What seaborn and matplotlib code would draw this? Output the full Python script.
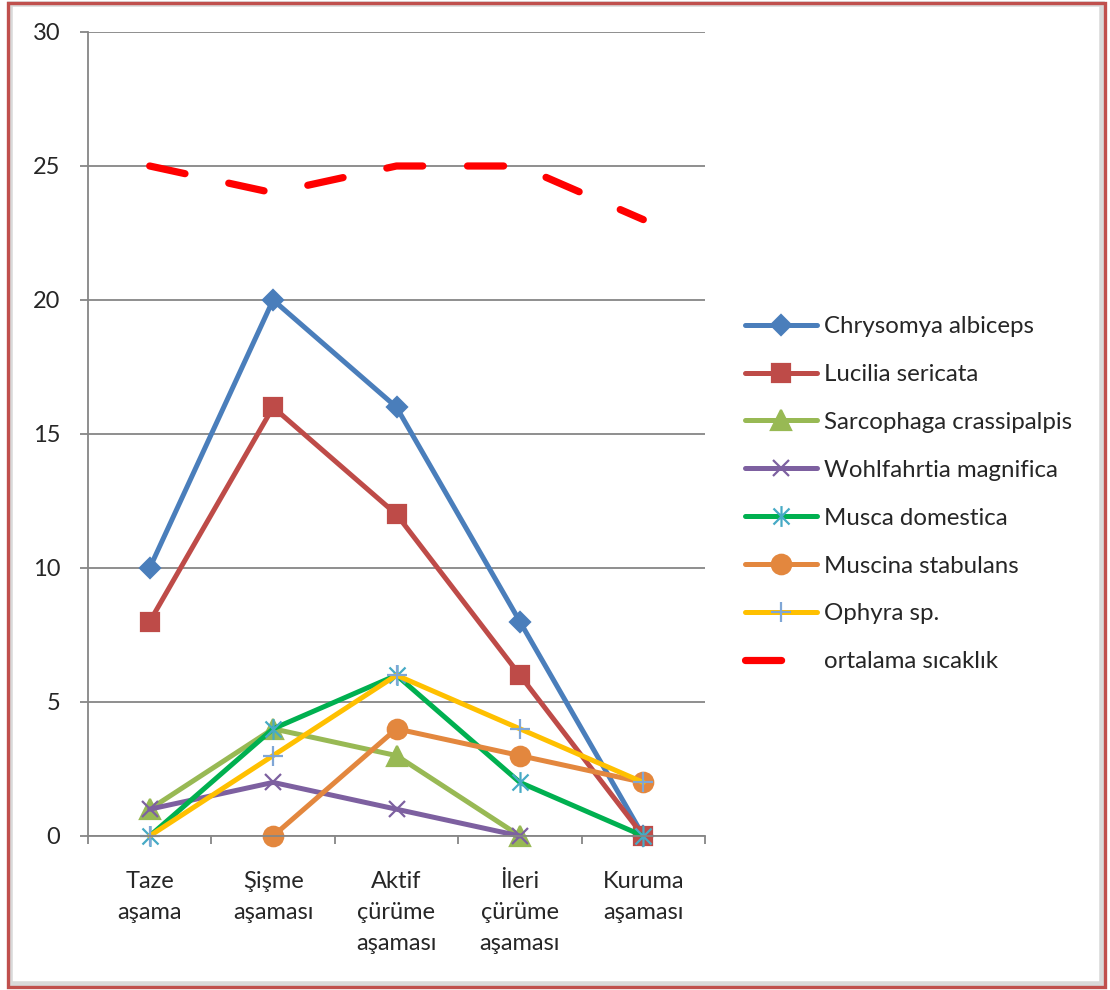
import matplotlib
matplotlib.use('Agg')
import matplotlib.pyplot as plt
from matplotlib.patches import Rectangle
from matplotlib.path import Path
import numpy as np
import pandas as pd
import seaborn as sns

# decomposition stages (x categories)
stages = ['Taze\naşama', 'Şişme\naşaması', 'Aktif\nçürüme\naşaması',
          'İleri\nçürüme\naşaması', 'Kuruma\naşaması']

# counts per species (nan = no point)
chrysomya = [10, 20, 16, 8, 0]
lucilia = [8, 16, 12, 6, 0]
sarcophaga = [1, 4, 3, 0, np.nan]
wohlfahrtia = [1, 2, 1, 0, np.nan]
musca = [0, 4, 6, 2, 0]
muscina = [np.nan, 0, 4, 3, 2]
ophyra = [0, 3, 6, 4, 2]
temperature = [25, 24, 25, 25, 23]

series_names = ['Chrysomya albiceps', 'Lucilia sericata', 'Sarcophaga crassipalpis',
                'Wohlfahrtia magnifica', 'Musca domestica', 'Muscina stabulans',
                'Ophyra sp.']
series_values = [chrysomya, lucilia, sarcophaga, wohlfahrtia, musca, muscina, ophyra]

# Excel style asterisk: an x with a vertical bar through it
star = Path([(-1, -1), (1, 1), (-1, 1), (1, -1), (0, -1.3), (0, 1.3)],
            [Path.MOVETO, Path.LINETO, Path.MOVETO, Path.LINETO, Path.MOVETO, Path.LINETO])

# line colour, marker, marker face, marker edge, marker size
styles = [
    ('#4A7EBB', 'D', '#4A7EBB', '#4A7EBB', 10.5),
    ('#BE4B48', 's', '#BE4B48', '#BE4B48', 13),
    ('#98B954', '^', '#98B954', '#98B954', 14),
    ('#7D60A0', 'x', 'none', '#7D60A0', 12),
    ('#00B050', star, 'none', '#46AAC5', 15),
    ('#E3873E', 'o', '#E3873E', '#E3873E', 14),
    ('#FFC000', '+', 'none', '#7FA6D6', 14),
]

sns.set_style('white')
plt.rcParams['font.family'] = ['Lato', 'DejaVu Sans']

fig = plt.figure(figsize=(11.1, 9.9), dpi=100)
ax = fig.add_axes([88 / 1110, 1 - 836 / 990, (705 - 88) / 1110, (836 - 32) / 990])

xpos = np.arange(len(stages))
for name, vals, (col, mk, mfc, mec, ms) in zip(series_names, series_values, styles):
    df = pd.DataFrame({'x': xpos, 'y': vals})
    sns.lineplot(data=df, x='x', y='y', ax=ax, color=col, lw=3.6,
                 marker=mk, markersize=ms, markerfacecolor=mfc,
                 markeredgecolor=mec, markeredgewidth=1.6,
                 label=name, clip_on=False, errorbar=None)

df_t = pd.DataFrame({'x': xpos, 'y': temperature})
sns.lineplot(data=df_t, x='x', y='y', ax=ax, color='#FF0000', lw=5.2,
             dashes=False, label='ortalama sıcaklık', errorbar=None)
ax.lines[-1].set_dashes((5.0, 6.2))
ax.lines[-1].set_dash_capstyle('round')

# axes styling
ax.set_xlim(-0.5, len(stages) - 0.5)
ax.set_ylim(0, 30)
ax.set_yticks(np.arange(0, 31, 5))
ax.yaxis.grid(True, color='#868686', lw=1.3)
ax.xaxis.grid(False)
ax.set_axisbelow(True)
for s in ['top', 'right']:
    ax.spines[s].set_visible(False)
for s in ['left', 'bottom']:
    ax.spines[s].set_color('#868686')
    ax.spines[s].set_linewidth(1.3)

ax.set_xticks(xpos)
ax.set_xticklabels(stages, fontsize=17, linespacing=1.6, va='top')
ax.set_xticks(np.arange(-0.5, len(stages)), minor=True)
ax.tick_params(axis='x', which='major', length=0, pad=25)
ax.tick_params(axis='x', which='minor', length=6, width=1.3, color='#868686',
               direction='out', bottom=True)
ax.tick_params(axis='y', which='major', length=6, width=1.3, color='#868686',
               direction='out', left=True, labelsize=17, pad=14)
ax.set_xlabel('')
ax.set_ylabel('')

handles, labels = ax.get_legend_handles_labels()
ax.legend(handles, labels, loc='upper left', bbox_to_anchor=(745 / 1110, 1 - 316 / 990),
          bbox_transform=fig.transFigure, frameon=False, fontsize=17.3,
          handlelength=3.0, handletextpad=0.3, labelspacing=1.12,
          borderpad=0, borderaxespad=0, numpoints=1)

# outer chart border with a faint shadow
fig.patches.append(Rectangle((10 / 1110, 6 / 990), 1092 / 1110, 980 / 990,
                             transform=fig.transFigure, fill=False,
                             edgecolor='#D9D9D9', lw=4, zorder=0))
fig.patches.append(Rectangle((8 / 1110, 3 / 990), 1097 / 1110, 984 / 990,
                             transform=fig.transFigure, fill=False,
                             edgecolor='#C0504D', lw=2.4, zorder=1))

fig.savefig('out.png', dpi=100)
